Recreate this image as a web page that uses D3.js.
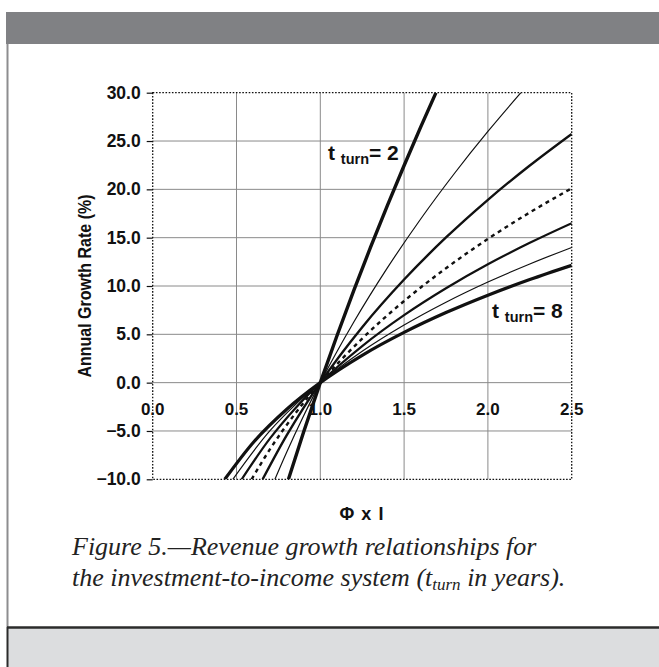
<!DOCTYPE html>
<html>
<head>
<meta charset="utf-8">
<script src="https://cdn.jsdelivr.net/npm/d3@7"></script>
<style>
  body { margin: 0; background: #fff; }
  svg { display: block; }
</style>
</head>
<body>
<svg id="chart" width="659" height="667"></svg>
<script>
// values: growth rate (%) against Phi x I, one curve per t_turn
const tTurn = [2, 3, 4, 5, 6, 7, 8];

const phiI_t2 = [0.81, 0.9, 1.0, 1.1, 1.2, 1.3, 1.4, 1.5, 1.6, 1.69];
const growth_t2 = [-10.0, -5.13, 0, 4.88, 9.54, 14.02, 18.32, 22.47, 26.49, 30.0];

const phiI_t3 = [0.729, 0.8, 0.9, 1.0, 1.2, 1.4, 1.6, 1.8, 2.0, 2.197];
const growth_t3 = [-10.0, -7.17, -3.45, 0, 6.27, 11.87, 16.96, 21.64, 25.99, 30.0];

const phiI_t4 = [0.656, 0.8, 0.9, 1.0, 1.25, 1.5, 1.75, 2.0, 2.25, 2.5];
const growth_t4 = [-10.0, -5.43, -2.60, 0, 5.74, 10.67, 15.02, 18.92, 22.47, 25.74];

const phiI_t5 = [0.59, 0.7, 0.85, 1.0, 1.25, 1.5, 1.75, 2.0, 2.25, 2.5];
const growth_t5 = [-10.0, -6.88, -3.20, 0, 4.56, 8.45, 11.84, 14.87, 17.61, 20.11];

const phiI_t6 = [0.531, 0.7, 0.85, 1.0, 1.25, 1.5, 1.75, 2.0, 2.25, 2.5];
const growth_t6 = [-10.0, -5.77, -2.67, 0, 3.79, 6.99, 9.77, 12.25, 14.47, 16.50];

const phiI_t7 = [0.478, 0.7, 0.85, 1.0, 1.25, 1.5, 1.75, 2.0, 2.25, 2.5];
const growth_t7 = [-10.0, -4.97, -2.30, 0, 3.24, 5.96, 8.32, 10.41, 12.28, 13.99];

const phiI_t8 = [0.43, 0.6, 0.8, 1.0, 1.25, 1.5, 1.75, 2.0, 2.25, 2.5];
const growth_t8 = [-10.0, -6.19, -2.75, 0, 2.83, 5.20, 7.25, 9.05, 10.67, 12.14];

const xTicks = [0.0, 0.5, 1.0, 1.5, 2.0, 2.5];
const yTicks = [-10, -5, 0, 5, 10, 15, 20, 25, 30];

const captionLine1 = "Figure 5.\u2014Revenue growth relationships for";
const captionLine2a = "the investment-to-income system (t";
const captionSub = "turn";
const captionLine2b = " in years).";

const series = [
  { t: 2, x: phiI_t2, y: growth_t2, w: 3.4, dash: null },
  { t: 3, x: phiI_t3, y: growth_t3, w: 1.2, dash: null },
  { t: 4, x: phiI_t4, y: growth_t4, w: 2.4, dash: null },
  { t: 5, x: phiI_t5, y: growth_t5, w: 2.4, dash: "4 4" },
  { t: 6, x: phiI_t6, y: growth_t6, w: 2.2, dash: null },
  { t: 7, x: phiI_t7, y: growth_t7, w: 1.2, dash: null },
  { t: 8, x: phiI_t8, y: growth_t8, w: 3.2, dash: null }
];

const svg = d3.select("#chart");

// page frame: grey band on top, left rule, light box at the bottom
svg.append("rect").attr("x", 6).attr("y", 12).attr("width", 653).attr("height", 32).attr("fill", "#808184");
svg.append("line").attr("x1", 7.5).attr("x2", 7.5).attr("y1", 44).attr("y2", 627)
  .attr("stroke", "#8d8d8f").attr("stroke-width", 2);
svg.append("rect").attr("x", 7).attr("y", 627).attr("width", 652).attr("height", 40).attr("fill", "#dcdddf");
svg.append("line").attr("x1", 7).attr("x2", 659).attr("y1", 627.5).attr("y2", 627.5)
  .attr("stroke", "#2b2b2b").attr("stroke-width", 2.5);
svg.append("line").attr("x1", 7.5).attr("x2", 7.5).attr("y1", 627).attr("y2", 667)
  .attr("stroke", "#2b2b2b").attr("stroke-width", 2);

const x = d3.scaleLinear().domain([0, 2.5]).range([152.7, 571.7]);
const y = d3.scaleLinear().domain([-10, 30]).range([479.3, 92.7]);

// grid
const grid = svg.append("g").attr("stroke", "#8a8a8a").attr("stroke-width", 1);
grid.selectAll(".gx").data(xTicks.slice(1, -1)).join("line")
  .attr("x1", d => x(d)).attr("x2", d => x(d))
  .attr("y1", y(30)).attr("y2", y(-10));
grid.selectAll(".gy").data(yTicks.slice(1, -1)).join("line")
  .attr("x1", x(0)).attr("x2", x(2.5))
  .attr("y1", d => y(d)).attr("y2", d => y(d));

// dotted frame of the plot
svg.append("rect")
  .attr("x", x(0)).attr("y", y(30))
  .attr("width", x(2.5) - x(0)).attr("height", y(-10) - y(30))
  .attr("fill", "none").attr("stroke", "#111").attr("stroke-width", 1.3)
  .attr("stroke-dasharray", "1.6 1.6");

// y axis: ticks and labels on the left
const yAxis = svg.append("g")
  .attr("transform", `translate(${x(0)},0)`)
  .call(d3.axisLeft(y).tickValues(yTicks).tickFormat(d3.format(".1f")).tickSize(6).tickPadding(6));
yAxis.select(".domain").remove();
yAxis.selectAll("line").attr("stroke", "#111").attr("stroke-width", 1.2);
yAxis.selectAll("text")
  .attr("font-family", "'Liberation Sans', Arial, sans-serif")
  .attr("font-weight", "bold").attr("font-size", "17.5px").attr("fill", "#111");

// x tick labels sit just under the zero line
svg.append("g").selectAll("text").data(xTicks).join("text")
  .attr("x", d => x(d)).attr("y", y(0) + 32)
  .attr("text-anchor", "middle")
  .attr("font-family", "'Liberation Sans', Arial, sans-serif")
  .attr("font-weight", "bold").attr("font-size", "17px").attr("fill", "#111")
  .text(d => d.toFixed(1));

// curves
svg.append("clipPath").attr("id", "plotclip").append("rect")
  .attr("x", x(0)).attr("y", y(30))
  .attr("width", x(2.5) - x(0)).attr("height", y(-10) - y(30));

const line = d3.line()
  .x(d => x(d[0]))
  .y(d => y(d[1]))
  .curve(d3.curveMonotoneX);

svg.append("g").attr("clip-path", "url(#plotclip)")
  .selectAll("path").data(series).join("path")
  .attr("d", s => line(s.x.map((v, i) => [v, s.y[i]])))
  .attr("fill", "none").attr("stroke", "#111")
  .attr("stroke-width", s => s.w)
  .attr("stroke-dasharray", s => s.dash);

// curve labels
function tLabel(px, py, val) {
  const t = svg.append("text").attr("x", px).attr("y", py)
    .attr("font-family", "'Liberation Sans', Arial, sans-serif")
    .attr("font-weight", "bold").attr("font-size", "21px").attr("fill", "#111");
  t.append("tspan").text("t ");
  t.append("tspan").attr("font-size", "14.5px").attr("dy", 4).text("turn");
  t.append("tspan").attr("dy", -4).text("= " + val);
}
tLabel(328, 160, tTurn[0]);
tLabel(492, 318, tTurn[tTurn.length - 1]);

// axis titles (the scan is a little wide, hence the x stretch on the rotated title)
svg.append("text")
  .attr("transform", `translate(91,286) scale(1.15,1) rotate(-90)`)
  .attr("text-anchor", "middle")
  .attr("font-family", "'Liberation Sans', Arial, sans-serif")
  .attr("font-weight", "bold").attr("font-size", "16px").attr("fill", "#111")
  .text("Annual Growth Rate (%)");

svg.append("text")
  .attr("x", 362).attr("y", 520)
  .attr("text-anchor", "middle")
  .attr("font-family", "'Liberation Sans', Arial, sans-serif")
  .attr("font-weight", "bold").attr("font-size", "18px").attr("letter-spacing", "1px")
  .attr("fill", "#111")
  .text("\u03A6 x I");

// caption
const cap = svg.append("g")
  .attr("font-family", "'Liberation Serif', 'Times New Roman', serif")
  .attr("font-style", "italic").attr("font-size", "26px").attr("fill", "#222");
cap.append("text").attr("x", 72).attr("y", 555).text(captionLine1);
const c2 = cap.append("text").attr("x", 72).attr("y", 586);
c2.append("tspan").text(captionLine2a);
c2.append("tspan").attr("font-size", "17px").attr("dy", 4).text(captionSub);
c2.append("tspan").attr("dy", -4).text(captionLine2b);
</script>
</body>
</html>
